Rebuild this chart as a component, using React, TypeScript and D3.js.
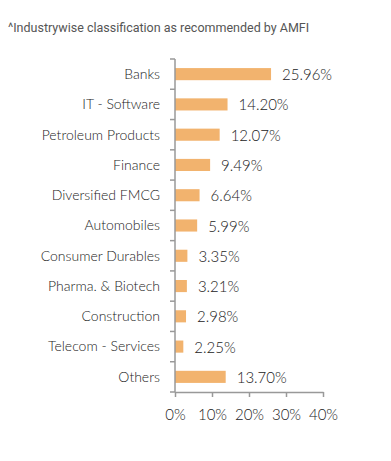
import { useEffect, useRef } from 'react'
import * as d3 from 'd3'

const categories = ['Banks', 'IT - Software', 'Petroleum Products', 'Finance', 'Diversified FMCG', 'Automobiles', 'Consumer Durables', 'Pharma. & Biotech', 'Construction', 'Telecom - Services', 'Others']
const values = [25.96, 14.2, 12.07, 9.49, 6.64, 5.99, 3.35, 3.21, 2.98, 2.25, 13.7]
const xTicks = [0, 10, 20, 30, 40]
const note = '^Industrywise classification as recommended by AMFI'

const W = 391
const H = 461
const margin = { top: 59, left: 175, right: 68, bottom: 69 }

export default function App() {
    const ref = useRef<SVGSVGElement>(null)

    useEffect(() => {
        const svg = d3.select(ref.current)
        svg.selectAll('*').remove()

        const x = d3.scaleLinear().domain([0, 40]).range([margin.left, W - margin.right])
        const y = d3.scaleBand().domain(categories).range([margin.top, H - margin.bottom]).paddingInner(0.6).paddingOuter(0.3)

        svg.append('text')
            .attr('x', 8).attr('y', 32)
            .attr('fill', '#555')
            .style('font-family', 'Roboto')
            .style('font-size', '12.5px')
            .text(note)

        svg.append('g')
            .selectAll('rect')
            .data(values)
            .join('rect')
            .attr('x', x(0))
            .attr('y', (d, i) => y(categories[i])!)
            .attr('width', d => x(d) - x(0))
            .attr('height', y.bandwidth())
            .attr('fill', '#F2B36E')

        svg.append('g')
            .selectAll('text')
            .data(values)
            .join('text')
            .attr('x', d => x(d) + 11)
            .attr('y', (d, i) => y(categories[i])! + y.bandwidth() / 2)
            .attr('dy', '0.4em')
            .attr('fill', '#222')
            .style('font-family', 'Lato')
            .style('font-weight', 300)
            .style('font-size', '15px')
            .text(d => d.toFixed(2) + '%')

        // y axis line with ticks at band edges
        const yAxis = svg.append('g').attr('stroke', '#999').attr('stroke-width', 1.5)
        yAxis.append('line')
            .attr('x1', x(0)).attr('x2', x(0))
            .attr('y1', margin.top).attr('y2', H - margin.bottom)
        const edges = d3.range(categories.length + 1).map(i => margin.top + i * (H - margin.top - margin.bottom) / categories.length)
        yAxis.selectAll('line.t')
            .data(edges)
            .join('line')
            .attr('class', 't')
            .attr('x1', x(0) - 5).attr('x2', x(0))
            .attr('y1', d => d).attr('y2', d => d)

        svg.append('g')
            .selectAll('text')
            .data(categories)
            .join('text')
            .attr('x', x(0) - 15)
            .attr('y', d => y(d)! + y.bandwidth() / 2)
            .attr('dy', '0.35em')
            .attr('text-anchor', 'end')
            .attr('fill', '#222')
            .style('font-family', 'Lato')
            .style('font-weight', 300)
            .style('font-size', '14px')
            .text(d => d)

        const xAxis = svg.append('g')
            .attr('transform', `translate(0,${H - margin.bottom})`)
            .call(d3.axisBottom(x).tickValues(xTicks).tickSize(5).tickSizeOuter(0).tickFormat(d => d + '%'))
        xAxis.select('.domain').attr('stroke', '#999').attr('stroke-width', 1.5)
        xAxis.selectAll('.tick line').attr('stroke', '#999').attr('stroke-width', 1.5)
        xAxis.selectAll('.tick text')
            .attr('fill', '#222')
            .attr('dy', '1.3em')
            .style('font-family', 'Lato')
            .style('font-weight', 300)
            .style('font-size', '15px')
    }, [])

    return <svg ref={ref} width={W} height={H} style={{ position: 'absolute', left: 0, top: 0, background: '#fff' }} />
}
